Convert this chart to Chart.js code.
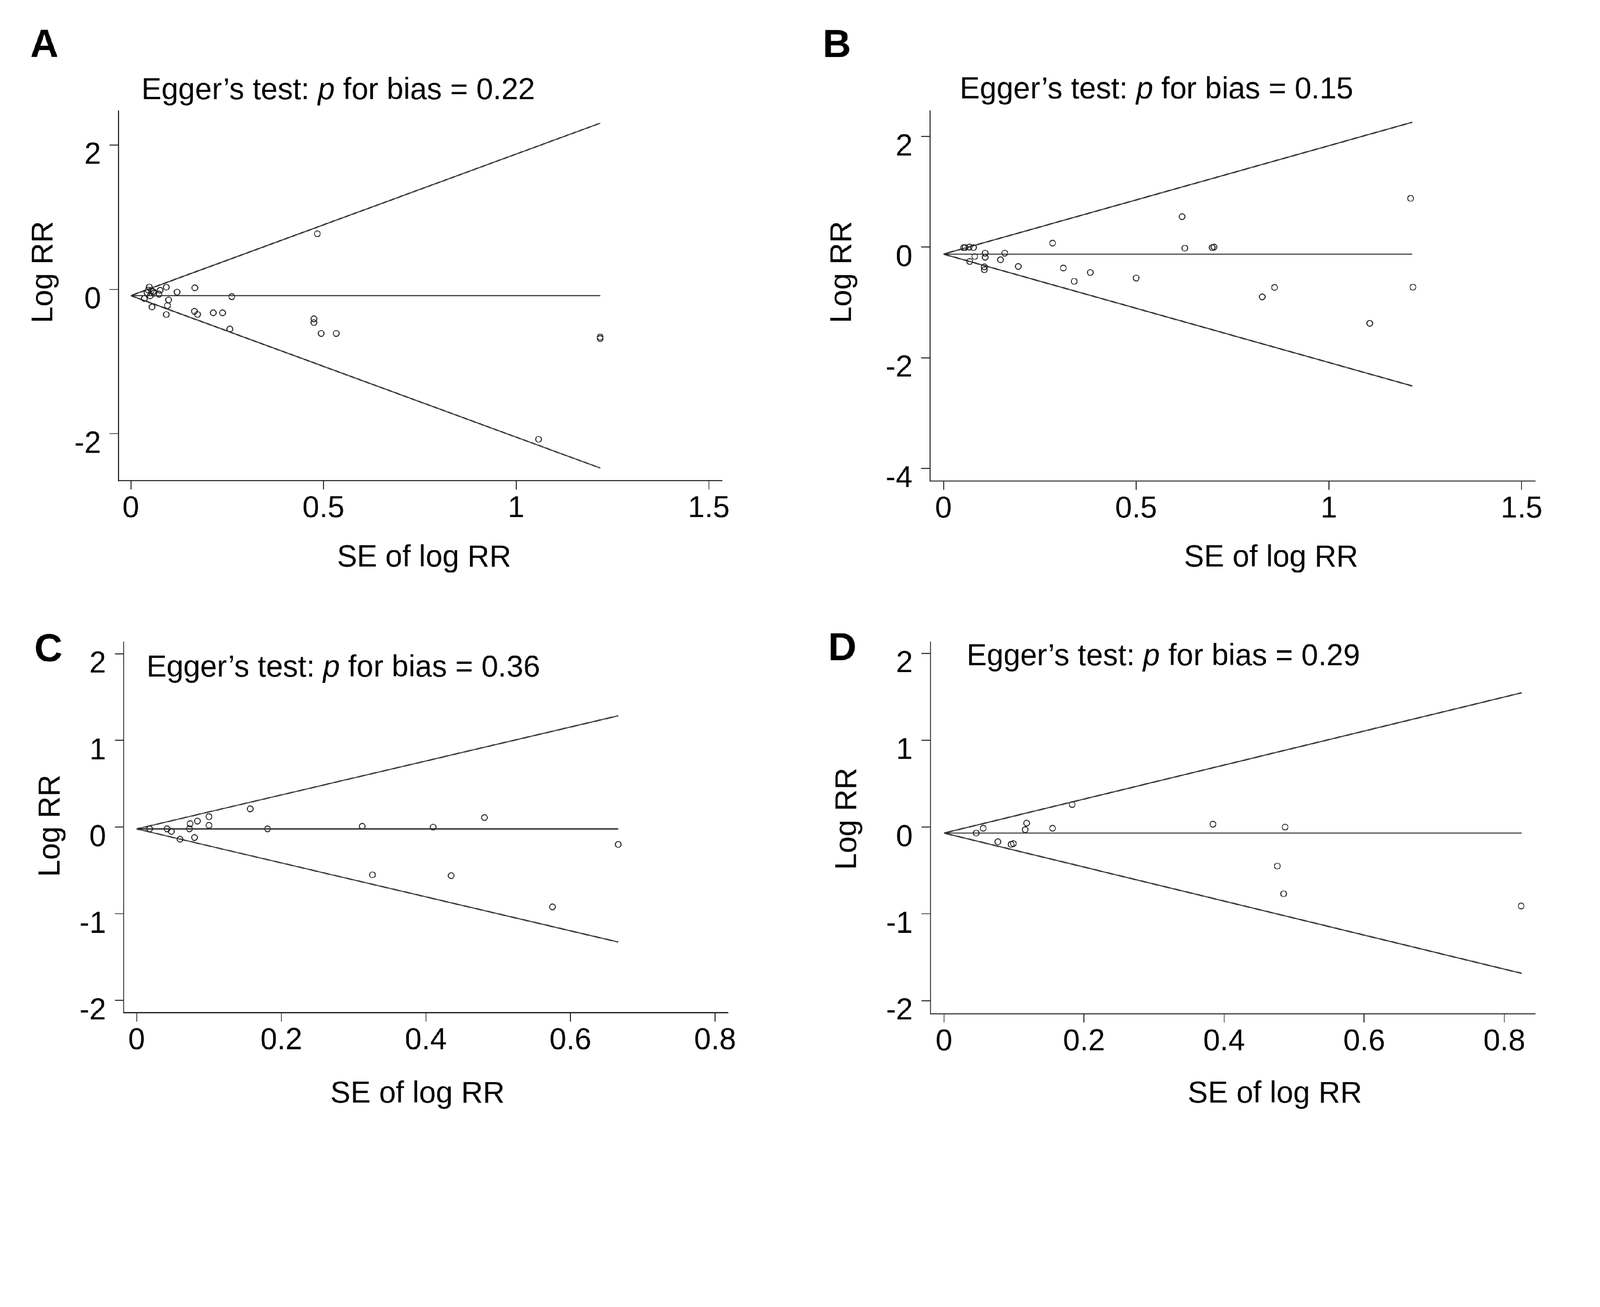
<!DOCTYPE html>
<html>
<head>
<meta charset="utf-8">
<script src="https://cdn.jsdelivr.net/npm/chart.js@4.4.1/dist/chart.umd.min.js"></script>
<style>
  html, body { margin: 0; padding: 0; background: #fff; overflow: hidden; }
  #wrap { position: relative; width: 4673px; height: 3347px; overflow: hidden; transform-origin: 0 0; }
  canvas { position: absolute; }
</style>
</head>
<body>
<div id="wrap">
  <canvas id="chartA"></canvas>
  <canvas id="chartB"></canvas>
  <canvas id="chartC"></canvas>
  <canvas id="chartD"></canvas>
</div>
<script>
// panel A
const seA = [0.048, 0.053, 0.042, 0.050, 0.060, 0.045, 0.058, 0.076, 0.073, 0.092, 0.120, 0.166, 0.262, 0.035, 0.098, 0.095, 0.055, 0.092, 0.165, 0.173, 0.214, 0.238, 0.257, 0.475, 0.475, 0.484, 0.494, 0.533, 1.058, 1.218, 1.218];
const logrrA = [0.032, -0.019, -0.047, -0.090, -0.054, -0.010, -0.030, -0.014, -0.066, 0.029, -0.038, 0.021, -0.101, -0.127, -0.146, -0.225, -0.244, -0.349, -0.304, -0.347, -0.325, -0.325, -0.550, -0.408, -0.460, 0.770, -0.610, -0.610, -2.076, -0.660, -0.680];
const pooledA = -0.087;
const seMaxA = 1.218;
const xTicksA = [0, 0.5, 1, 1.5];
const yTicksA = [-2, 0, 2];

// panel B
const seB = [0.052, 0.056, 0.067, 0.078, 0.068, 0.081, 0.106, 0.106, 0.108, 0.108, 0.148, 0.159, 0.194, 0.283, 0.311, 0.339, 0.381, 0.500, 0.619, 0.626, 0.697, 0.702, 0.827, 0.859, 1.106, 1.212, 1.218];
const logrrB = [-0.01, -0.01, 0.00, -0.01, -0.26, -0.17, -0.355, -0.41, -0.11, -0.185, -0.23, -0.11, -0.35, 0.07, -0.38, -0.62, -0.46, -0.56, 0.55, -0.02, -0.01, 0.00, -0.90, -0.73, -1.38, 0.88, -0.725];
const pooledB = -0.128;
const seMaxB = 1.216;
const xTicksB = [0, 0.5, 1, 1.5];
const yTicksB = [-4, -2, 0, 2];

// panel C
const seC = [0.018, 0.042, 0.048, 0.060, 0.073, 0.074, 0.080, 0.084, 0.100, 0.100, 0.157, 0.181, 0.312, 0.326, 0.410, 0.435, 0.481, 0.575, 0.666];
const logrrC = [-0.02, -0.02, -0.05, -0.14, -0.02, 0.04, -0.12, 0.07, 0.12, 0.02, 0.21, -0.02, 0.01, -0.55, 0.00, -0.56, 0.11, -0.92, -0.20];
const pooledC = -0.021;
const seMaxC = 0.666;
const xTicksC = [0, 0.2, 0.4, 0.6, 0.8];
const yTicksC = [-2, -1, 0, 1, 2];

// panel D
const seD = [0.046, 0.056, 0.077, 0.096, 0.099, 0.116, 0.118, 0.155, 0.183, 0.384, 0.476, 0.485, 0.487, 0.824];
const logrrD = [-0.07, -0.015, -0.17, -0.20, -0.19, -0.03, 0.045, -0.015, 0.26, 0.033, -0.45, -0.77, 0.00, -0.91];
const pooledD = -0.07;
const seMaxD = 0.825;
const xTicksD = [0, 0.2, 0.4, 0.6, 0.8];
const yTicksD = [-2, -1, 0, 1, 2];

const FONT = "'Liberation Sans', Arial, Helvetica, sans-serif";
const INK = "#111";
const LINE = "#2b2b2b";

// the layout is in picture pixels; fit it to whatever the window is
const fit = window.innerWidth / 4673;
document.getElementById("wrap").style.transform = "scale(" + fit + ")";

function toPoints(xs, ys) {
  return xs.map((x, i) => ({ x: x, y: ys[i] }));
}

// letter, Egger title (italic p) and axis titles
const panelText = {
  id: "panelText",
  afterDraw(chart, args, o) {
    const ctx = chart.ctx;
    ctx.save();
    ctx.fillStyle = "#000";
    ctx.textBaseline = "alphabetic";
    ctx.textAlign = "left";
    ctx.font = "bold 114px " + FONT;
    ctx.fillText(o.letter, o.letterX, o.letterY);

    let x = o.titleX;
    const parts = [["Egger\u2019s test: ", ""], ["p", "italic "], [" for bias = " + o.pValue, ""]];
    parts.forEach(([t, style]) => {
      ctx.font = style + "88px " + FONT;
      ctx.fillText(t, x, o.titleY);
      x += ctx.measureText(t).width;
    });

    ctx.font = "88px " + FONT;
    ctx.textAlign = "center";
    ctx.fillText("SE of log RR", o.xTitleX, o.xTitleY);

    ctx.translate(o.yTitleX, o.yTitleY);
    ctx.rotate(-Math.PI / 2);
    ctx.fillText("Log RR", 0, 0);
    ctx.restore();
  }
};

function funnelChart(id, p) {
  const canvas = document.getElementById(id);
  const dpr = fit * (window.devicePixelRatio || 1);
  canvas.width = p.w;
  canvas.height = p.h;
  canvas.style.left = p.left + "px";
  canvas.style.top = p.top + "px";

  const a = p.area;
  const axisW = 200;
  const axisH = 200;

  const upper = [{ x: 0, y: p.pooled }, { x: p.seMax, y: p.pooled + 1.96 * p.seMax }];
  const centre = [{ x: 0, y: p.pooled }, { x: p.seMax, y: p.pooled }];
  const lower = [{ x: 0, y: p.pooled }, { x: p.seMax, y: p.pooled - 1.96 * p.seMax }];
  const lineSet = (d) => ({ data: d, showLine: true, borderColor: LINE, borderWidth: 3.5, pointRadius: 0, fill: false });

  const axisStyle = {
    grid: { drawOnChartArea: false, drawTicks: true, tickLength: 26, color: INK, lineWidth: 2.5 },
    border: { display: true, color: INK, width: 3 }
  };

  new Chart(canvas, {
    type: "scatter",
    data: {
      datasets: [
        lineSet(upper),
        lineSet(centre),
        lineSet(lower),
        {
          data: toPoints(p.se, p.logrr),
          pointRadius: 8.5,
          pointBorderWidth: 2.5,
          borderColor: INK,
          backgroundColor: "rgba(0,0,0,0)"
        }
      ]
    },
    options: {
      responsive: false,
      animation: false,
      devicePixelRatio: dpr,
      layout: {
        padding: { left: a.left - axisW, top: a.top, right: p.w - a.right, bottom: p.h - a.bottom - axisH }
      },
      plugins: {
        legend: { display: false },
        tooltip: { enabled: false },
        panelText: p.text
      },
      scales: {
        x: {
          type: "linear",
          min: p.xMin,
          max: p.xMax,
          afterFit(s) { s.height = axisH; s.paddingLeft = 0; s.paddingRight = 0; },
          afterBuildTicks(s) { s.ticks = p.xTicks.map(v => ({ value: v })); },
          ...axisStyle,
          ticks: { color: "#000", font: { family: FONT, size: 88 }, padding: 4, maxRotation: 0, callback: v => String(v) }
        },
        y: {
          type: "linear",
          min: p.yMin,
          max: p.yMax,
          afterFit(s) { s.width = axisW; s.paddingTop = 0; s.paddingBottom = 0; },
          afterBuildTicks(s) { s.ticks = p.yTicks.map(v => ({ value: v })); },
          ...axisStyle,
          ticks: { color: "#000", font: { family: FONT, size: 88 }, padding: 25, labelOffset: 31, callback: v => String(v) }
        }
      }
    },
    plugins: [panelText]
  });
  canvas.style.width = p.w + "px";
  canvas.style.height = p.h + "px";
}

funnelChart("chartA", {
  left: 0, top: 0, w: 2336, h: 1673,
  area: { left: 346, top: 324, right: 2109, bottom: 1404 },
  xMin: -0.032, xMax: 1.535, yMin: -2.65, yMax: 2.47,
  xTicks: xTicksA, yTicks: yTicksA,
  se: seA, logrr: logrrA, pooled: pooledA, seMax: seMaxA,
  text: { letter: "A", letterX: 88, letterY: 167, pValue: "0.22", titleX: 413, titleY: 290, xTitleX: 1238, xTitleY: 1654, yTitleX: 153, yTitleY: 795 }
});

funnelChart("chartB", {
  left: 2336, top: 0, w: 2337, h: 1673,
  area: { left: 380, top: 324, right: 2147, bottom: 1405 },
  xMin: -0.035, xMax: 1.535, yMin: -4.23, yMax: 2.46,
  xTicks: xTicksB, yTicks: yTicksB,
  se: seB, logrr: logrrB, pooled: pooledB, seMax: seMaxB,
  text: { letter: "B", letterX: 67, letterY: 167, pValue: "0.15", titleX: 467, titleY: 288, xTitleX: 1376, xTitleY: 1654, yTitleX: 150, yTitleY: 795 }
});

funnelChart("chartC", {
  left: 0, top: 1673, w: 2336, h: 1674,
  area: { left: 361, top: 204, right: 2126, bottom: 1285 },
  xMin: -0.018, xMax: 0.818, yMin: -2.14, yMax: 2.13,
  xTicks: xTicksC, yTicks: yTicksC,
  se: seC, logrr: logrrC, pooled: pooledC, seMax: seMaxC,
  text: { letter: "C", letterX: 100, letterY: 259, pValue: "0.36", titleX: 428, titleY: 303, xTitleX: 1219, xTitleY: 1548, yTitleX: 173, yTitleY: 739 }
});

funnelChart("chartD", {
  left: 2336, top: 1673, w: 2337, h: 1674,
  area: { left: 381, top: 203, right: 2147, bottom: 1288 },
  xMin: -0.0195, xMax: 0.844, yMin: -2.15, yMax: 2.13,
  xTicks: xTicksD, yTicks: yTicksD,
  se: seD, logrr: logrrD, pooled: pooledD, seMax: seMaxD,
  text: { letter: "D", letterX: 83, letterY: 256, pValue: "0.29", titleX: 487, titleY: 270, xTitleX: 1387, xTitleY: 1548, yTitleX: 164, yTitleY: 719 }
});
</script>
</body>
</html>
